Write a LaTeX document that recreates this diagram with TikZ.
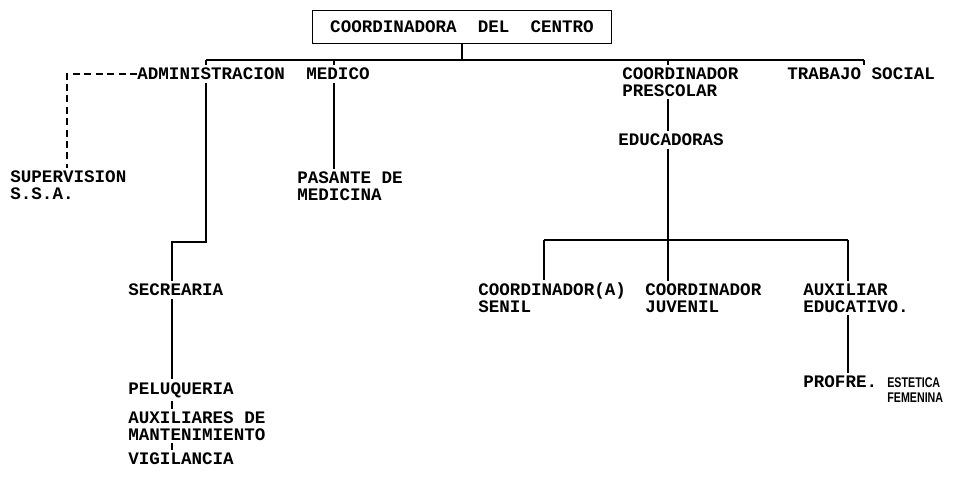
\documentclass[tikz,border=0pt]{standalone}
\usepackage{fontspec}
\setmainfont{Liberation Mono}
\newfontfamily\letrachica{Liberation Sans}
\usepackage{tikz}

\tikzset{
  puesto/.style={anchor=west, inner xsep=0pt, inner ysep=1.5pt, align=left,
    font=\bfseries\fontsize{10}{9.6}\selectfont},
  linea/.style={line width=1pt},
  punteada/.style={line width=1.2pt, dash pattern=on 4pt off 2.5pt}
}
\newcommand{\angosto}[1]{\scalebox{0.76}[1]{#1}}

\begin{document}
\begin{tikzpicture}[x=0.02cm,y=-0.02cm]

      \useasboundingbox (0,0) rectangle (963,483);

      % draw top box
      \node[draw, line width=1pt, minimum width=5.98cm, minimum height=0.66cm,
        font=\bfseries\fontsize{10}{12}\selectfont] (centro) at (462,27)
        {COORDINADORA\ \ DEL\ \ CENTRO};

      % draw first level
      \node[puesto] (admin) at (137,74) {ADMINISTRACION};
      \node[puesto] (medico) at (306,74) {MEDICO};
      \node[puesto] (prescolar) at (622,82) {COORDINADOR\\PRESCOLAR};
      \node[puesto] (trabajo) at (787,74) {TRABAJO SOCIAL};

      % draw second level
      \node[puesto] (supervision) at (10,185) {SUPERVISION\\S.S.A.};
      \node[puesto] (pasante) at (297,186) {PASANTE DE\\MEDICINA};
      \node[puesto] (educadoras) at (618,140) {EDUCADORAS};

      % draw lower nodes
      \node[puesto] (secrearia) at (128,290) {SECREARIA};
      \node[puesto] (peluqueria) at (128,390) {PELUQUERIA};
      \node[puesto] (auxiliares) at (128,426) {AUXILIARES DE\\MANTENIMIENTO};
      \node[puesto] (vigilancia) at (128,459) {VIGILANCIA};
      \node[puesto] (senil) at (478,298) {COORDINADOR(A)\\SENIL};
      \node[puesto] (juvenil) at (645,298) {COORDINADOR\\JUVENIL};
      \node[puesto] (auxiliar) at (803,298) {AUXILIAR\\EDUCATIVO.};
      \node[puesto] (profre) at (803,382) {PROFRE.};
      \node[anchor=west, inner sep=0pt, align=left,
        font=\letrachica\bfseries\fontsize{8}{8.4}\selectfont] (estetica) at (887,390)
        {\angosto{ESTETICA}\\\angosto{FEMENINA}};

      % draw main bus
      \coordinate (tAdmin) at (206,60);
      \coordinate (tMedico) at (334,60);
      \coordinate (tPresc) at (668,60);
      \coordinate (tTrabajo) at (864,60);
      \draw[linea] (tAdmin) -- (tTrabajo);
      \draw[linea] (centro.south) -- (centro.south |- tAdmin);
      \foreach \t/\n in {tAdmin/admin,tMedico/medico,tPresc/prescolar,tTrabajo/trabajo}
      \draw[linea] (\t) -- (\t |- \n.north);

      % draw left branch
      \coordinate (codo) at (172,242);
      \coordinate (sup) at (67,74);
      \draw[punteada] (admin.west) -- (sup) -- (sup |- supervision.north);
      \draw[linea] (tMedico |- medico.south) -- (tMedico |- pasante.north);
      \draw[linea] (tAdmin |- admin.south) -- (tAdmin |- codo) -- (codo)
        -- (codo |- secrearia.north);
      \draw[linea] (codo |- secrearia.south) -- (codo |- peluqueria.north);
      \draw[linea] (codo |- peluqueria.south) -- (codo |- auxiliares.north);
      \draw[linea] (codo |- auxiliares.south) -- (codo |- vigilancia.north);

      % draw right branch
      \coordinate (tSenil) at (544,240);
      \coordinate (tJuvenil) at (668,240);
      \coordinate (tAux) at (848,240);
      \draw[linea] (tPresc |- prescolar.south) -- (tPresc |- educadoras.north);
      \draw[linea] (tPresc |- educadoras.south) -- (tJuvenil);
      \draw[linea] (tSenil) -- (tAux);
      \foreach \t/\n in {tSenil/senil,tJuvenil/juvenil,tAux/auxiliar}
      \draw[linea] (\t) -- (\t |- \n.north);
      \draw[linea] (tAux |- auxiliar.south) -- (tAux |- profre.north);

     \end{tikzpicture}
\end{document}
